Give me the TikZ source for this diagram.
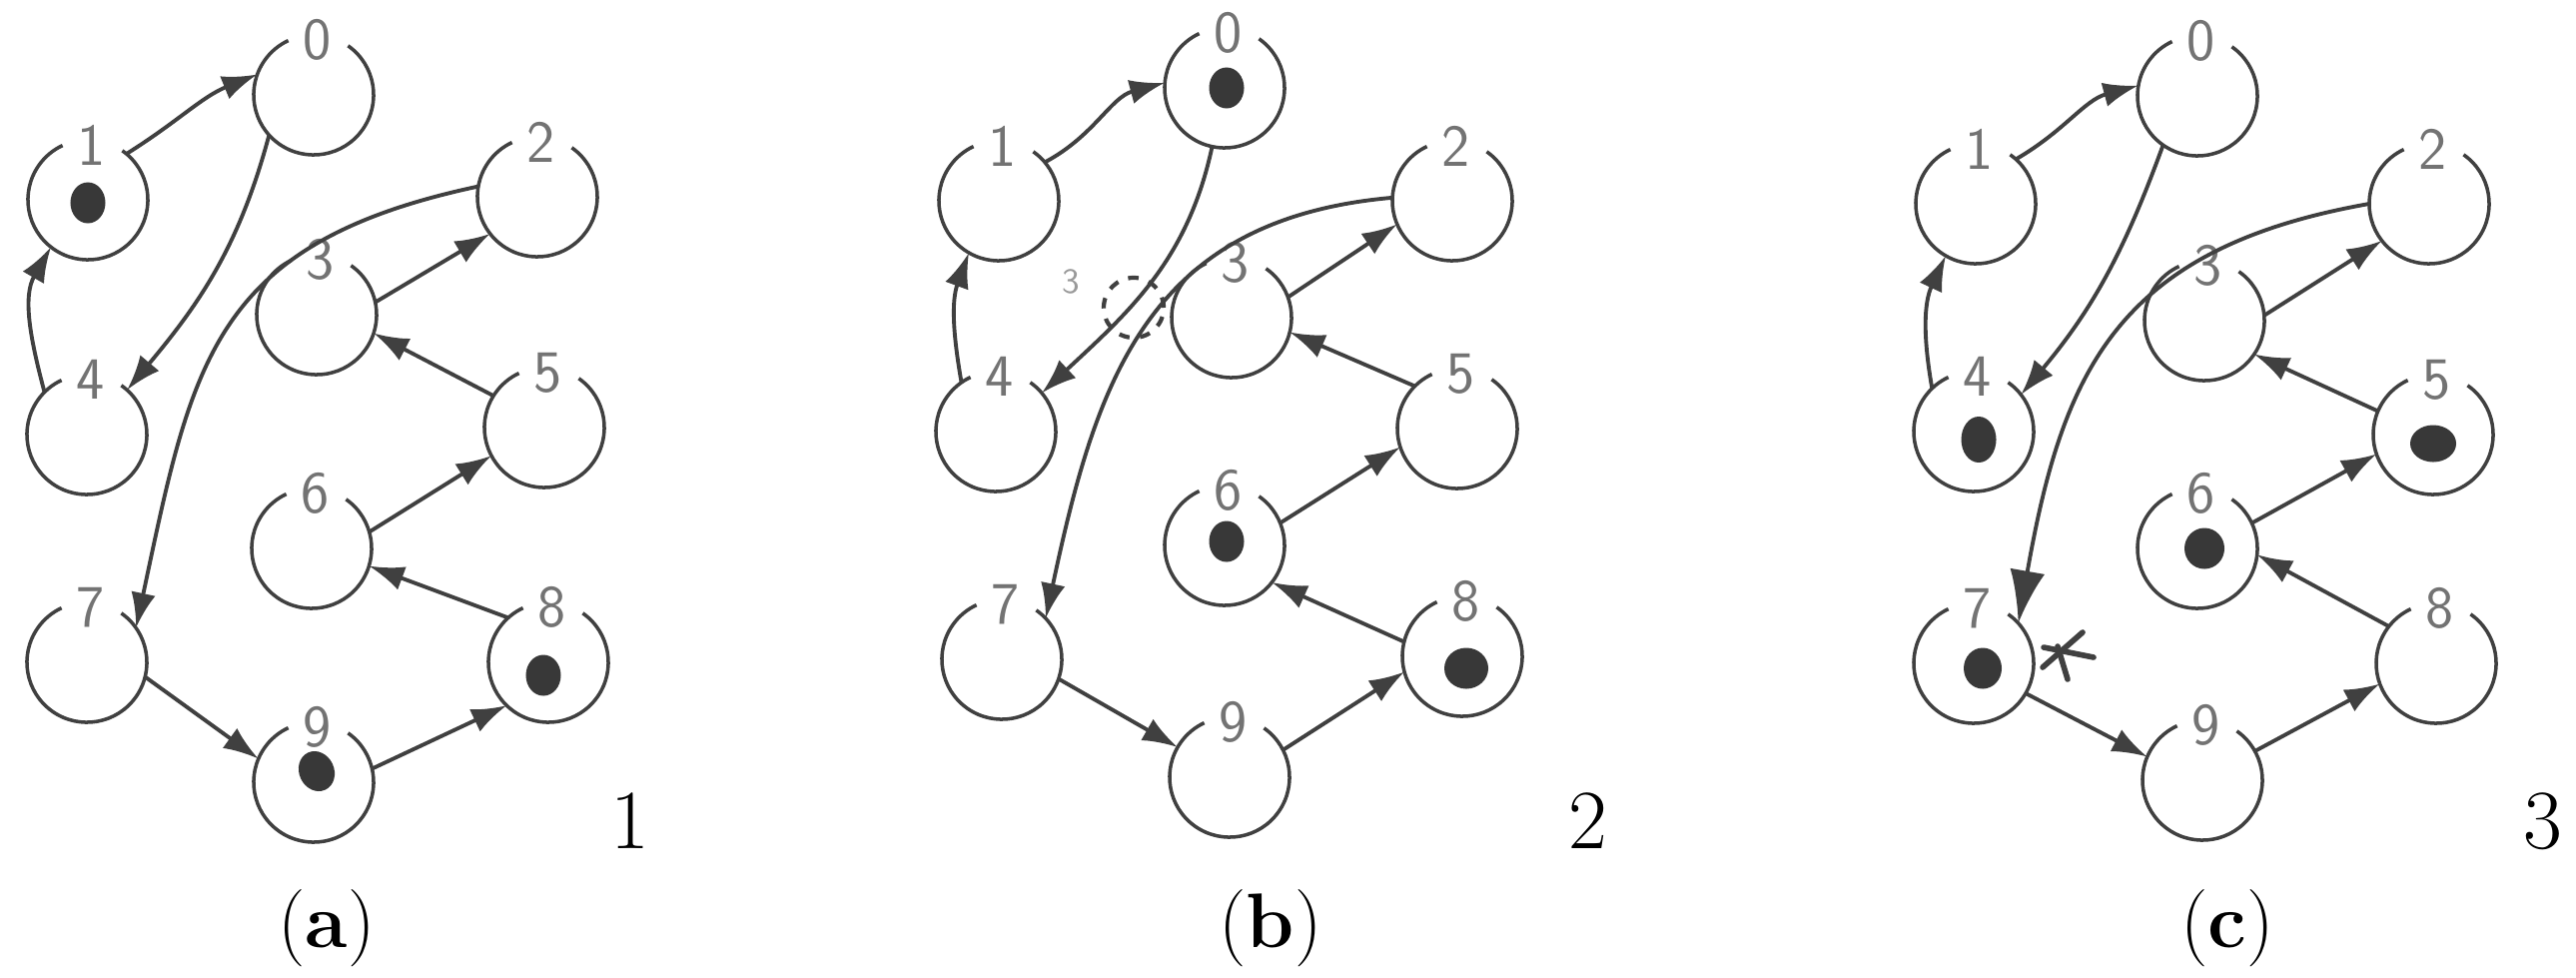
\documentclass[tikz,border=0pt]{standalone}
\usetikzlibrary{arrows.meta,shapes.geometric,calc}
\definecolor{linec}{gray}{0.25}
\definecolor{labc}{gray}{0.45}
\definecolor{tokc}{gray}{0.22}
\begin{document}
\begin{tikzpicture}[x=0.01cm,y=-0.01cm,
  st/.style={circle,minimum size=1.2cm,inner sep=0pt,outer sep=0pt},
  ring/.style={draw=linec,line width=1pt},
  hw/.style={font=\sffamily\fontsize{17}{17}\selectfont,text=labc,inner sep=0pt},
  tok/.style={ellipse,fill=tokc,minimum width=0.35cm,minimum height=0.41cm,inner sep=0pt},
  conn/.style={draw=linec,line width=1.1pt,-{Latex[length=10pt,width=7pt]}},
  bigtip/.style={-{Latex[length=15pt,width=10pt]}},
  stepnum/.style={font=\fontsize{24}{24}\selectfont,anchor=base,inner sep=0pt},
  captxt/.style={font=\fontsize{22}{22}\selectfont,anchor=base,inner sep=0pt},
  astk/.style={draw=linec,line width=1.6pt,line cap=round}]

\useasboundingbox (0,0) rectangle (2579,978);

% ---------- panel (a)
\node[st] (a0) at (314,95) {};
\node[st] (a1) at (88,200) {};
\node[st] (a2) at (538,197) {};
\node[st] (a3) at (317,315) {};
\node[st] (a4) at (87,435) {};
\node[st] (a5) at (545,428) {};
\node[st] (a6) at (312,549) {};
\node[st] (a7) at (87,663) {};
\node[st] (a8) at (549,663) {};
\node[st] (a9) at (314,783) {};
% ---------- panel (b)
\node[st] (b0) at (1226,88) {};
\node[st] (b1) at (1000,201) {};
\node[st] (b2) at (1454,201) {};
\node[st] (b3) at (1233,318) {};
\node[st] (b4) at (997,432) {};
\node[st] (b5) at (1459,429) {};
\node[st] (b6) at (1226,546) {};
\node[st] (b7) at (1003,660) {};
\node[st] (b8) at (1464,657) {};
\node[st] (b9) at (1231,778) {};
% ---------- panel (c)
\node[st] (c0) at (2200,96) {};
\node[st] (c1) at (1978,204) {};
\node[st] (c2) at (2432,204) {};
\node[st] (c3) at (2207,321) {};
\node[st] (c4) at (1976,432) {};
\node[st] (c5) at (2436,435) {};
\node[st] (c6) at (2200,549) {};
\node[st] (c7) at (1976,664) {};
\node[st] (c8) at (2439,664) {};
\node[st] (c9) at (2205,781) {};

% rings with a gap at the top, and the written numbers
\foreach \p in {a,b,c}{
  \foreach \i in {0,...,9}{
    \draw[ring] (\p\i.55) arc[start angle=55,end angle=-245,radius=0.6cm];
    \node[hw] (l\p\i) at ($(\p\i.north)+(4,5)$) {\i};
  }
}

% tokens
\node[tok] (ta1) at (88,203) {};
\node[tok] (ta8) at (544,676) {};
\node[tok,rotate=25] (ta9) at (317,772) {};
\node[tok] (tb0) at (1228,88) {};
\node[tok] (tb6) at (1228,542) {};
\node[tok,minimum width=0.44cm] (tb8) at (1468,669) {};
\node[tok,minimum height=0.46cm] (tc4) at (1981,440) {};
\node[tok,minimum width=0.46cm,minimum height=0.37cm] (tc5) at (2436,444) {};
\node[tok,minimum width=0.4cm] (tc6) at (2207,549) {};
\node[tok,minimum width=0.38cm] (tc7) at (1985,669) {};

% edges (a)
\draw[conn] (a1.50) to[out=32,in=202] (a0.160);
\draw[conn] (a0.222) to[out=255,in=50] (a4.48);
\draw[conn] (a4.135) to[out=105,in=240] (a1.232);
\draw[conn] (a2.170) to[out=192,in=78,looseness=1.25] (a7.35);
\draw[conn] (a3.12) -- (a2.218);
\draw[conn] (a5.148) -- (a3.342);
\draw[conn] (a6.16) -- (a5.208);
\draw[conn] (a8.132) -- (a6.343);
\draw[conn] (a7.346) -- (a9.157);
\draw[conn] (a9.13) -- (a8.226);

% edges (b)
\draw[conn] (b1.40) to[out=28,in=195] (b0.175);
\draw[conn] (b0.258) to[out=258,in=43] (b4.40);
\draw[conn] (b4.125) to[out=100,in=250] (b1.240);
\draw[conn] (b2.177) to[out=185,in=78,looseness=1.15] (b7.43);
\draw[conn] (b3.20) -- (b2.203);
\draw[conn] (b5.135) -- (b3.346);
\draw[conn] (b6.22) -- (b5.198);
\draw[conn] (b8.166) -- (b6.322);
\draw[conn] (b7.341) -- (b9.150);
\draw[conn] (b9.27) -- (b8.195);

% edges (c)
\draw[conn] (c1.48) to[out=30,in=195] (c0.170);
\draw[conn] (c0.235) to[out=250,in=50] (c4.38);
\draw[conn] (c4.134) to[out=100,in=245] (c1.240);
\draw[conn,bigtip] (c2.180) to[out=190,in=80,looseness=1.2] (c7.42);
\draw[conn] (c3.5) -- (c2.218);
\draw[conn] (c5.157) -- (c3.326);
\draw[conn] (c6.25) -- (c5.199);
\draw[conn] (c8.142) -- (c6.354);
\draw[conn] (c7.330) -- (c9.157);
\draw[conn] (c9.29) -- (c8.200);

% extra marks in (b)
\node[font=\sffamily\fontsize{10}{10}\selectfont,text=black!40] (m3) at (1072,282) {3};
\node[circle,draw=linec,dashed,dash pattern=on 3pt off 3pt,line width=1.2pt,minimum size=0.6cm,inner sep=0pt] (xc) at (1135,308) {};

% asterisk in (c)
\coordinate (ast) at (2068,655);
\draw[astk] ($(ast)+(-22,-7)$) -- ($(ast)+(28,3)$);
\draw[astk] ($(ast)+(17,-22)$) -- ($(ast)+(-23,13)$);
\draw[astk] ($(ast)+(-8,-8)$) -- ($(ast)+(2,25)$);

% step numbers and captions
\node[stepnum] (n1) at (631,849) {1};
\node[stepnum] (n2) at (1590,849) {2};
\node[stepnum] (n3) at (2546,849) {3};
\node[captxt] (ca) at (327,948) {(\textbf{a})};
\node[captxt] (cb) at (1272,948) {(\textbf{b})};
\node[captxt] (cc) at (2230,948) {(\textbf{c})};
\end{tikzpicture}
\end{document}
